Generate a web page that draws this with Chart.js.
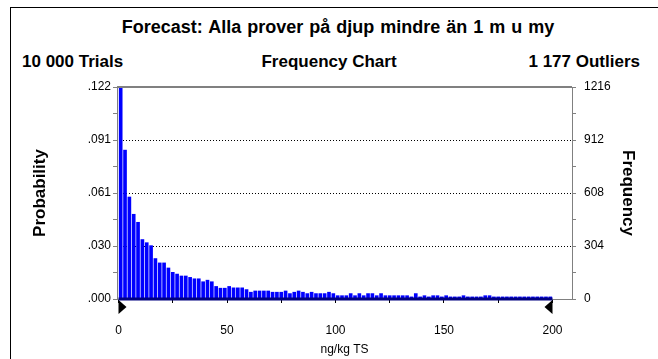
<!DOCTYPE html>
<html lang="sv">
<head>
<meta charset="UTF-8">
<title>Forecast: Alla prover på djup mindre än 1 m u my</title>
<script src="https://cdn.jsdelivr.net/npm/chart.js"></script>
<style>
  body { margin: 0; background: #fff; font-family: "Liberation Sans", Arial, sans-serif; }
  #wrap { position: relative; width: 658px; height: 359px; overflow: hidden; }
  #frame { position: absolute; left: 10px; top: 7px; width: 700px; height: 400px; border-left: 1px solid #000; border-top: 1px solid #000; }
  .t { position: absolute; font-weight: bold; white-space: nowrap; font-size: 17px; line-height: 20px; }
  #title { left: 0; width: 676px; text-align: center; top: 17px; font-size: 18px; word-spacing: 1px; }
  #trials { left: 22px; top: 52px; }
  #freqchart { left: 0; width: 658px; text-align: center; top: 52px; }
  #outliers { right: 18px; top: 52px; }
  canvas { position: absolute; left: 0; top: 0; }
</style>
</head>
<body>
<div id="wrap">
  <div id="frame"></div>
  <div class="t" id="title">Forecast: Alla prover på djup mindre än 1 m u my</div>
  <div class="t" id="trials">10 000 Trials</div>
  <div class="t" id="freqchart">Frequency Chart</div>
  <div class="t" id="outliers">1 177 Outliers</div>
  <canvas id="chart" width="658" height="359"></canvas>
</div>
<script>
// simulation settings
const trials = 10000;
const binStart = 0;
const binWidth = 2;
const rangeMarks = [0, 200];

// counts per bin
const counts = [
  1210, 854, 585, 486, 440, 341, 323, 306, 232, 207,
  207, 178, 153, 143, 132, 132, 124, 116, 116, 99,
  108, 99, 72, 62, 62, 72, 64, 64, 64, 54,
  39, 46, 46, 46, 46, 39, 39, 39, 46, 31,
  39, 46, 39, 31, 39, 31, 31, 31, 39, 31,
  19, 19, 19, 31, 19, 31, 19, 31, 31, 19,
  31, 19, 19, 19, 19, 19, 19, 12, 31, 12,
  19, 12, 19, 19, 12, 19, 12, 12, 12, 19,
  12, 12, 12, 12, 19, 19, 12, 12, 12, 12,
  12, 12, 12, 12, 12, 12, 12, 12, 12, 12
];
const bins = counts.map((_, i) => binStart + binWidth * (i + 0.5));

// axis ticks
const xTicks = [0, 25, 50, 75, 100, 125, 150, 175, 200];
const xLabels = [0, 50, 100, 150, 200];
const freqTicks = [0, 152, 304, 456, 608, 760, 912, 1064, 1216];
const freqLabels = [0, 304, 608, 912, 1216];

Chart.defaults.font.family = '"Liberation Sans", Arial, sans-serif';
Chart.defaults.color = '#000';

const extras = {
  id: 'extras',
  afterDatasetsDraw(chart) {
    const {ctx, chartArea, scales} = chart;
    ctx.save();
    // top frame line
    ctx.strokeStyle = '#808080';
    ctx.lineWidth = 2;
    ctx.beginPath();
    ctx.moveTo(chartArea.left, chartArea.top);
    ctx.lineTo(chartArea.right, chartArea.top);
    ctx.stroke();
    // display range on the axis
    const x0 = scales.x.getPixelForValue(rangeMarks[0]);
    const x1 = scales.x.getPixelForValue(rangeMarks[1]);
    const yb = chartArea.bottom;
    ctx.strokeStyle = '#000080';
    ctx.lineWidth = 3;
    ctx.beginPath();
    ctx.moveTo(x0, yb);
    ctx.lineTo(x1, yb);
    ctx.stroke();
    // range grabbers
    ctx.fillStyle = '#000';
    ctx.beginPath();
    ctx.moveTo(x0, yb + 1); ctx.lineTo(x0, yb + 15); ctx.lineTo(x0 + 8, yb + 8);
    ctx.closePath(); ctx.fill();
    ctx.beginPath();
    ctx.moveTo(x1, yb + 1); ctx.lineTo(x1, yb + 15); ctx.lineTo(x1 - 8, yb + 8);
    ctx.closePath(); ctx.fill();
    ctx.restore();
  }
};

new Chart(document.getElementById('chart'), {
  type: 'bar',
  data: {
    datasets: [{
      data: bins.map((b, i) => ({x: b, y: counts[i]})),
      backgroundColor: '#0000ff',
      borderWidth: 0,
      barThickness: 3,
      yAxisID: 'y'
    }]
  },
  options: {
    responsive: false,
    animation: false,
    layout: { padding: { top: 87, left: 0, right: 0, bottom: 0 } },
    plugins: { legend: { display: false }, tooltip: { enabled: false } },
    scales: {
      x: {
        type: 'linear',
        offset: false,
        min: -0.7,
        max: 209,
        afterBuildTicks: s => { s.ticks = xTicks.map(v => ({value: v})); },
        afterFit: s => { s.height = 60; },
        ticks: {
          font: { size: 12 },
          padding: 20,
          maxRotation: 0,
          autoSkip: false,
          callback: v => xLabels.includes(v) ? String(v) : ''
        },
        grid: { offset: false, drawOnChartArea: false, tickLength: 4, tickColor: '#000' },
        border: { color: '#808080', width: 1 },
        title: { display: true, text: 'ng/kg TS', font: { size: 12 }, padding: { top: 0, bottom: 2 } }
      },
      yP: {
        type: 'linear',
        position: 'left',
        min: 0,
        max: freqTicks[freqTicks.length - 1] / trials,
        afterBuildTicks: s => { s.ticks = freqTicks.map(v => ({value: v / trials})); },
        afterFit: s => { s.width = 117; },
        ticks: {
          font: { size: 12 },
          padding: 2,
          autoSkip: false,
          callback: (v, i) => freqLabels.includes(freqTicks[i]) ? v.toFixed(3).replace(/^0/, '') : ''
        },
        grid: { drawOnChartArea: false, tickLength: 4, tickColor: '#808080' },
        border: { color: '#808080', width: 1 },
        title: { display: true, text: 'Probability', font: { size: 17, weight: 'bold' }, padding: { top: 30 } }
      },
      y: {
        type: 'linear',
        position: 'right',
        min: 0,
        max: freqTicks[freqTicks.length - 1],
        afterBuildTicks: s => { s.ticks = freqTicks.map(v => ({value: v})); },
        afterFit: s => { s.width = 86; },
        ticks: {
          font: { size: 12 },
          padding: 8,
          autoSkip: false,
          callback: v => freqLabels.includes(v) ? String(v) : ''
        },
        grid: {
          tickLength: 4,
          tickColor: '#808080',
          lineWidth: 1,
          color: c => (c.tick && freqLabels.includes(c.tick.value) && c.tick.value > 0 && c.tick.value < 1216) ? '#000' : 'rgba(0,0,0,0)'
        },
        border: { color: '#808080', width: 1, dash: [1, 2] },
        title: { display: true, text: 'Frequency', font: { size: 17, weight: 'bold' }, padding: { top: 20 } }
      }
    }
  },
  plugins: [extras]
});
</script>
</body>
</html>
